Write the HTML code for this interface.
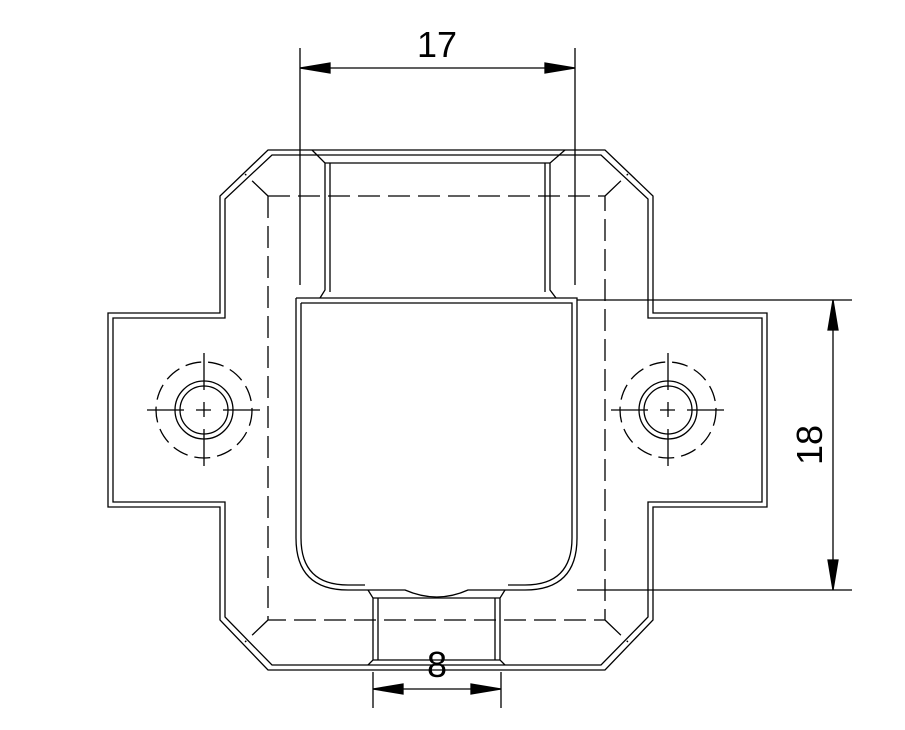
<!DOCTYPE html>
<html><head><style>body{margin:0;background:#fff}svg{display:block}</style></head><body>
<svg width="905" height="730" viewBox="0 0 905 730" xmlns="http://www.w3.org/2000/svg" fill="none" stroke="#000" stroke-width="1.3" font-family="Liberation Sans, sans-serif">
<!-- outer outline -->
<path d="M268,150 L605,150 L653,196 L653,313 L767,313 L767,507 L653,507 L653,620 L605,670 L268,670 L220,620 L220,507 L108,507 L108,313 L220,313 L220,196 Z"/>
<path d="M272,155 L601,155 L648,199 L648,318 L762,318 L762,502 L648,502 L648,617 L601,665 L272,665 L225,617 L225,502 L113,502 L113,318 L225,318 L225,199 Z"/>
<!-- dashed rect -->
<path d="M268,196 L605,196 L605,620 L268,620 Z M268,196 L245,174 M605,196 L628,174 M268,620 L245,642 M605,620 L628,642" stroke-dasharray="22,8"/>
<!-- top band -->
<path d="M312,150 L325,163 L325,290 L320,298 M565,150 L550,163 L550,290 L556,298"/>
<path d="M330,163 L330,292 M545,163 L545,292 M325,163 L550,163"/>
<!-- pocket -->
<path d="M296,298 L577,298 L577,538 Q577,590 525,590 L505,590 M296,298 L296,538 Q296,590 348,590 L368,590"/>
<path d="M301,303 L572,303 L572,538 Q572,585 525,585 L508,585 M301,303 L301,538 Q301,585 348,585 L365,585"/>
<path d="M368,590 L405,590 Q437,604 468,590 L505,590"/>
<!-- lower band -->
<path d="M368,590 L373,598 L373,660 L368,665 M505,590 L500,598 L500,660 L505,665"/>
<path d="M378,598 L378,660 M495,598 L495,660 M373,598 L500,598 M373,660 L500,660"/>
<!-- holes -->
<g>
<circle cx="204" cy="410" r="29"/><circle cx="204" cy="410" r="24"/>
<circle cx="204" cy="410" r="48" stroke-dasharray="16,7"/>
<path d="M147,410 L262,410 M204,353 L204,467" stroke-dasharray="37,12,15,12"/>
<circle cx="668" cy="410" r="29"/><circle cx="668" cy="410" r="24"/>
<circle cx="668" cy="410" r="48" stroke-dasharray="16,7"/>
<path d="M611,410 L726,410 M668,353 L668,467" stroke-dasharray="37,12,15,12"/>
</g>
<!-- dims -->
<path d="M300,48 L300,285 M575,48 L575,285 M300,68 L575,68"/>
<path d="M300,68 L330,63 L330,73 Z M575,68 L545,63 L545,73 Z" fill="#000"/>
<text x="437" y="57" font-size="36" text-anchor="middle" fill="#000" stroke="none">17</text>
<path d="M577,300 L852,300 M577,590 L852,590 M833,300 L833,590"/>
<path d="M833,300 L828,330 L838,330 Z M833,590 L828,560 L838,560 Z" fill="#000"/>
<text transform="translate(822,445) rotate(-90)" font-size="36" text-anchor="middle" fill="#000" stroke="none">18</text>
<path d="M373,672 L373,708 M501,672 L501,708 M373,689 L501,689"/>
<path d="M373,689 L403,684 L403,694 Z M501,689 L471,684 L471,694 Z" fill="#000"/>
<text x="437" y="677" font-size="36" text-anchor="middle" fill="#000" stroke="none">8</text>
</svg>
</body></html>
